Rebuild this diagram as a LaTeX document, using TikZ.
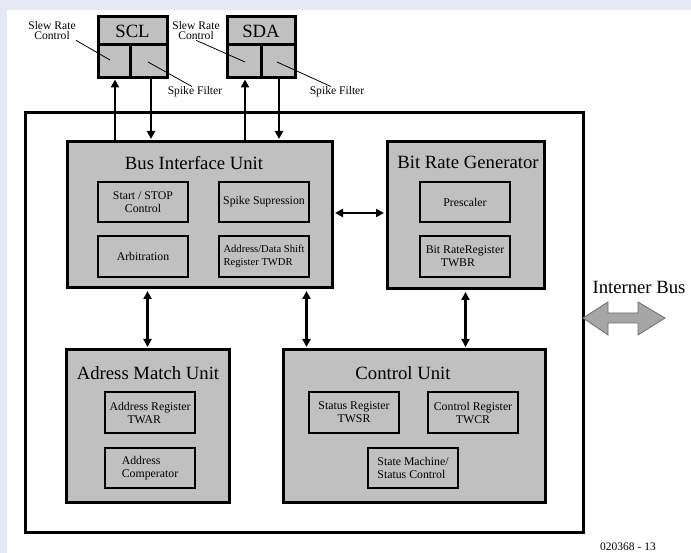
\documentclass[tikz,border=0pt]{standalone}
\usepackage{fontspec}
\setmainfont{Liberation Serif}
\usetikzlibrary{arrows.meta,calc}
\definecolor{bgc}{RGB}{230,233,243}
\definecolor{boxg}{RGB}{192,192,192}
\definecolor{busg}{RGB}{166,166,166}
\definecolor{busd}{RGB}{110,110,110}
\begin{document}
\begin{tikzpicture}[x=1pt,y=-1pt,
  unit/.style={draw, line width=3pt, fill=boxg, inner sep=0pt},
  cell/.style={draw, line width=3pt, inner sep=0pt},
  sub/.style={draw, line width=1.6pt, fill=boxg, inner sep=0pt, minimum width=90pt, minimum height=40pt, font=\fontsize{11.8}{13}\selectfont},
  ttl/.style={font=\fontsize{18.7}{20}\selectfont, inner sep=0pt},
  lbl/.style={font=\fontsize{11.6}{10}\selectfont, align=center, inner sep=0pt},
  link/.style={line width=2.6pt, -{Triangle[length=8pt,width=8pt]}, shorten >=1.5pt},
  blink/.style={line width=2.6pt, {Triangle[length=8pt,width=8pt]}-{Triangle[length=8pt,width=8pt]}, shorten >=1.5pt, shorten <=1.5pt},
  lead/.style={line width=0.8pt}]
\fill[bgc] (0,0) rectangle (691,553);
\fill[white] (7,10) rectangle (691,553);
\useasboundingbox (0,0) rectangle (691,553);

% outer frame
\node[draw, line width=3pt, minimum width=558pt, minimum height=419pt, inner sep=0pt] (outer) at (304,322.5) {};

% SCL / SDA pads
\node[unit, minimum width=69pt, minimum height=61pt] (scl) at (132.5,47.5) {};
\node[ttl] (sclt) at (132.5,31.5) {SCL};
\node[cell, minimum width=32pt, minimum height=33pt] (scla) at (114,61.5) {};
\node[cell, minimum width=37pt, minimum height=33pt] (sclb) at (148.5,61.5) {};
\node[unit, minimum width=68pt, minimum height=61pt] (sda) at (261,47.5) {};
\node[ttl] (sdat) at (261,31.5) {SDA};
\node[cell, minimum width=34pt, minimum height=33pt] (sdaa) at (244,61.5) {};
\node[cell, minimum width=34pt, minimum height=33pt] (sdab) at (278,61.5) {};

% pad labels
\node[lbl] (sl1) at (52,31) {Slew Rate\\Control};
\node[lbl] (sl2) at (196,31) {Slew Rate\\Control};
\node[lbl] (sf1) at (195,92) {Spike Filter};
\node[lbl] (sf2) at (337,92) {Spike Filter};
\coordinate (sl1e) at (110,60);
\coordinate (sl2e) at (245,62);
\coordinate (sf1e) at (148,62);
\coordinate (sf2e) at (277,62);
\draw[lead] (sl1.south east) -- (sl1e);
\draw[lead] (sl2.south) -- (sl2e);
\draw[lead] (sf1e) -- ([xshift=-3pt]sf1.north);
\draw[lead] (sf2e) -- ([xshift=-6pt]sf2.north);

% Bus Interface Unit
\node[unit, minimum width=265pt, minimum height=146pt] (biu) at (199.5,215) {};
\node[ttl] (biut) at (194,163) {Bus Interface Unit};
\node[sub, align=center] (ss) at (143,202) {Start / STOP\\Control};
\node[sub] (sp) at (264,202) {Spike Supression};
\node[sub, minimum height=41pt] (arb) at (143,256.5) {Arbitration};
\node[sub, minimum height=41pt, align=left, font=\fontsize{10.6}{12.5}\selectfont] (adr) at (264,256.5) {Address/Data Shift\\Register TWDR};

% Bit Rate Generator
\node[unit, minimum width=157pt, minimum height=147pt] (brg) at (465.5,215.5) {};
\node[ttl] (brgt) at (468,162) {Bit Rate Generator};
\node[sub] (pre) at (465,202) {Prescaler};
\node[sub, minimum height=41pt, align=left] (twbr) at (465,256.5) {Bit RateRegister\\\hspace*{15pt}TWBR};

% Adress Match Unit
\node[unit, minimum width=163pt, minimum height=152pt] (amu) at (147.5,426) {};
\node[ttl] (amut) at (148,373) {Adress Match Unit};
\node[sub, minimum height=41pt, align=left] (twar) at (150,412.5) {Address Register\\\hspace*{18pt}TWAR};
\node[sub, align=left] (acmp) at (150,468) {Address\\Comperator};

% Control Unit
\node[unit, minimum width=262pt, minimum height=152pt] (cu) at (414,426) {};
\node[ttl] (cut) at (403,373) {Control Unit};
\node[sub, minimum height=41pt, align=center] (twsr) at (354,412.5) {Status Register\\TWSR};
\node[sub, minimum height=41pt, align=center] (twcr) at (473,412.5) {Control Register\\TWCR};
\node[sub, align=left] (sm) at (413,468) {State Machine/\\Status Control};

% pad connections
\coordinate (su1) at (115,78);
\coordinate (sd1) at (151,78);
\coordinate (su2) at (245,78);
\coordinate (sd2) at (279,78);
\draw[link] (su1 |- biu.north) -- (su1);
\draw[link] (sd1) -- (sd1 |- biu.north);
\draw[link] (su2 |- biu.north) -- (su2);
\draw[link] (sd2) -- (sd2 |- biu.north);

% internal connections
\coordinate (h1) at ([yshift=2pt]biu.east);
\draw[blink] (h1) -- (h1 -| brg.west);
\draw[blink] (amu.north) -- (amu.north |- biu.south);
\coordinate (v2) at ([xshift=25pt]cu.north west);
\draw[blink] (v2) -- (v2 |- biu.south);
\draw[blink] (brg.south) -- (brg.south |- cu.north);

% internal bus
\node[ttl] (ibus) at (639,287) {Interner Bus};
\draw[fill=busg, draw=busd, line width=0.8pt, line join=miter]
  (583,318) -- (608,302) -- (608,313) -- (638,313) -- (638,302) -- (665,318)
  -- (638,335) -- (638,323) -- (608,323) -- (608,335) -- cycle;

% figure number
\node[font=\fontsize{11.5}{12}\selectfont, anchor=base, inner sep=0pt] (fig) at (628,550.5) {020368 - 13};
\end{tikzpicture}
\end{document}
